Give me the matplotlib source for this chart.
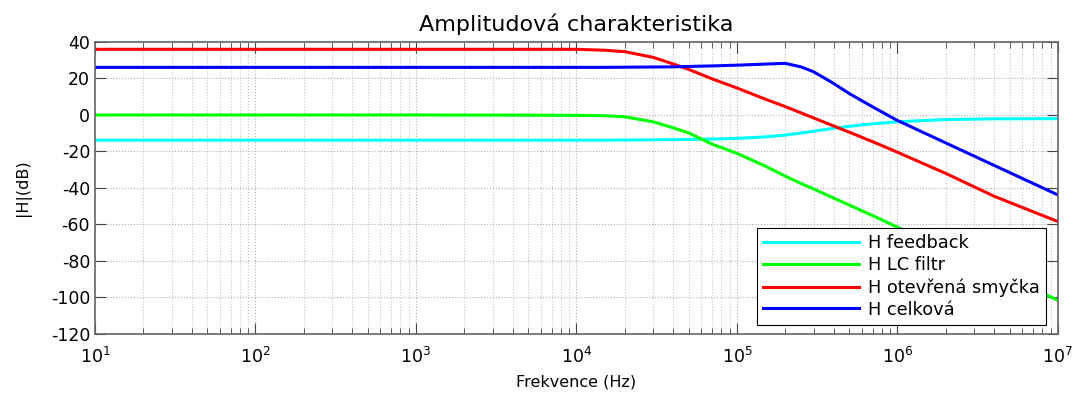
import numpy as np
import matplotlib
matplotlib.use("Agg")
import matplotlib.pyplot as plt
from matplotlib.ticker import FixedLocator, NullFormatter

# values
freq = [10, 1e3, 5e3, 1e4, 1.5e4, 2e4, 3e4, 4e4, 5e4, 7e4, 1e5, 1.5e5, 2e5,
        2.5e5, 3e5, 4e5, 5e5, 6e5, 7.5e5, 1e6, 2e6, 4e6, 1e7]
h_feedback = [-13.8, -13.8, -13.8, -13.8, -13.8, -13.7, -13.6, -13.5, -13.4, -13.2,
              -12.8, -12.0, -11.0, -9.9, -8.9, -7.3, -6.2, -5.4, -4.6, -3.7,
              -2.5, -2.1, -2.0]
h_lc = [0, 0, -0.1, -0.2, -0.4, -1.0, -3.7, -7.0, -9.8, -16.0, -21.0, -28.0,
        -33.5, -37.5, -40.5, -45.5, -49.3, -52.5, -56.3, -61.5, -73.5, -85.5, -101.5]
h_open = [36, 36, 36, 36, 35.5, 34.7, 31.6, 28.0, 25.0, 19.8, 14.8, 8.7, 4.6,
          1.2, -1.6, -6.0, -9.4, -12.2, -15.7, -20.4, -32.0, -44.5, -58.4]
h_total = [26.1, 26.1, 26.1, 26.1, 26.1, 26.2, 26.3, 26.4, 26.6, 26.9, 27.3, 27.9,
           28.3, 26.4, 23.7, 17.3, 11.8, 7.8, 3.0, -3.0, -15.3, -27.6, -43.8]

labels = ["H feedback", "H LC filtr", "H otevřená smyčka", "H celková"]
colors = ["#00ffff", "#00ff00", "#ff0000", "#0000ff"]
yticks = np.arange(-120, 41, 20)
xticks = [1e1, 1e2, 1e3, 1e4, 1e5, 1e6, 1e7]
xtick_labels = [r"$10^{%d}$" % k for k in range(1, 8)]

plt.rcParams['font.family'] = ['DejaVu Sans']
plt.rcParams['axes.unicode_minus'] = False

fig = plt.figure(figsize=(10.78, 3.94), dpi=100)
ax = fig.add_axes([0.0881, 0.1523, 0.8933, 0.7411])

for y, lab, c in zip([h_feedback, h_lc, h_open, h_total], labels, colors):
    ax.semilogx(freq, y, color=c, lw=2.2, label=lab)

ax.set_xlim(10, 1e7)
ax.set_ylim(-120, 40)
ax.set_yticks(yticks)
ax.set_xticks(xticks)
ax.set_xticklabels(xtick_labels)
minor = [m * 10.0 ** k for k in range(1, 7) for m in range(2, 10)]
ax.xaxis.set_minor_locator(FixedLocator(minor))
ax.xaxis.set_minor_formatter(NullFormatter())

ax.grid(True, which='major', ls=':', color='#b0b0b0', lw=0.8)
ax.grid(True, which='minor', axis='x', ls=':', color='#c8c8c8', lw=0.8)
ax.tick_params(which='both', direction='in', top=True, right=True, color='#444444',
               labelsize=12.5)
ax.tick_params(which='major', length=8)
ax.tick_params(which='minor', length=4)
ax.tick_params(axis='x', pad=9)
for s in ax.spines.values():
    s.set_color('#666666')
    s.set_linewidth(1.2)

ax.set_title("Amplitudová charakteristika", fontsize=16, pad=8)
ax.set_xlabel("Frekvence (Hz)", fontsize=11.5, labelpad=6)
ax.set_ylabel("|H|(dB)", fontsize=11.5, labelpad=14)

leg = ax.legend(loc='lower right', bbox_to_anchor=(0.9875, 0.031), borderaxespad=0,
                fancybox=False, framealpha=1, edgecolor='black', handlelength=5.4,
                handletextpad=0.5, labelspacing=0.22, borderpad=0.35, fontsize=12.8)
leg.get_frame().set_linewidth(0.8)

fig.savefig("out.png", dpi=100)
